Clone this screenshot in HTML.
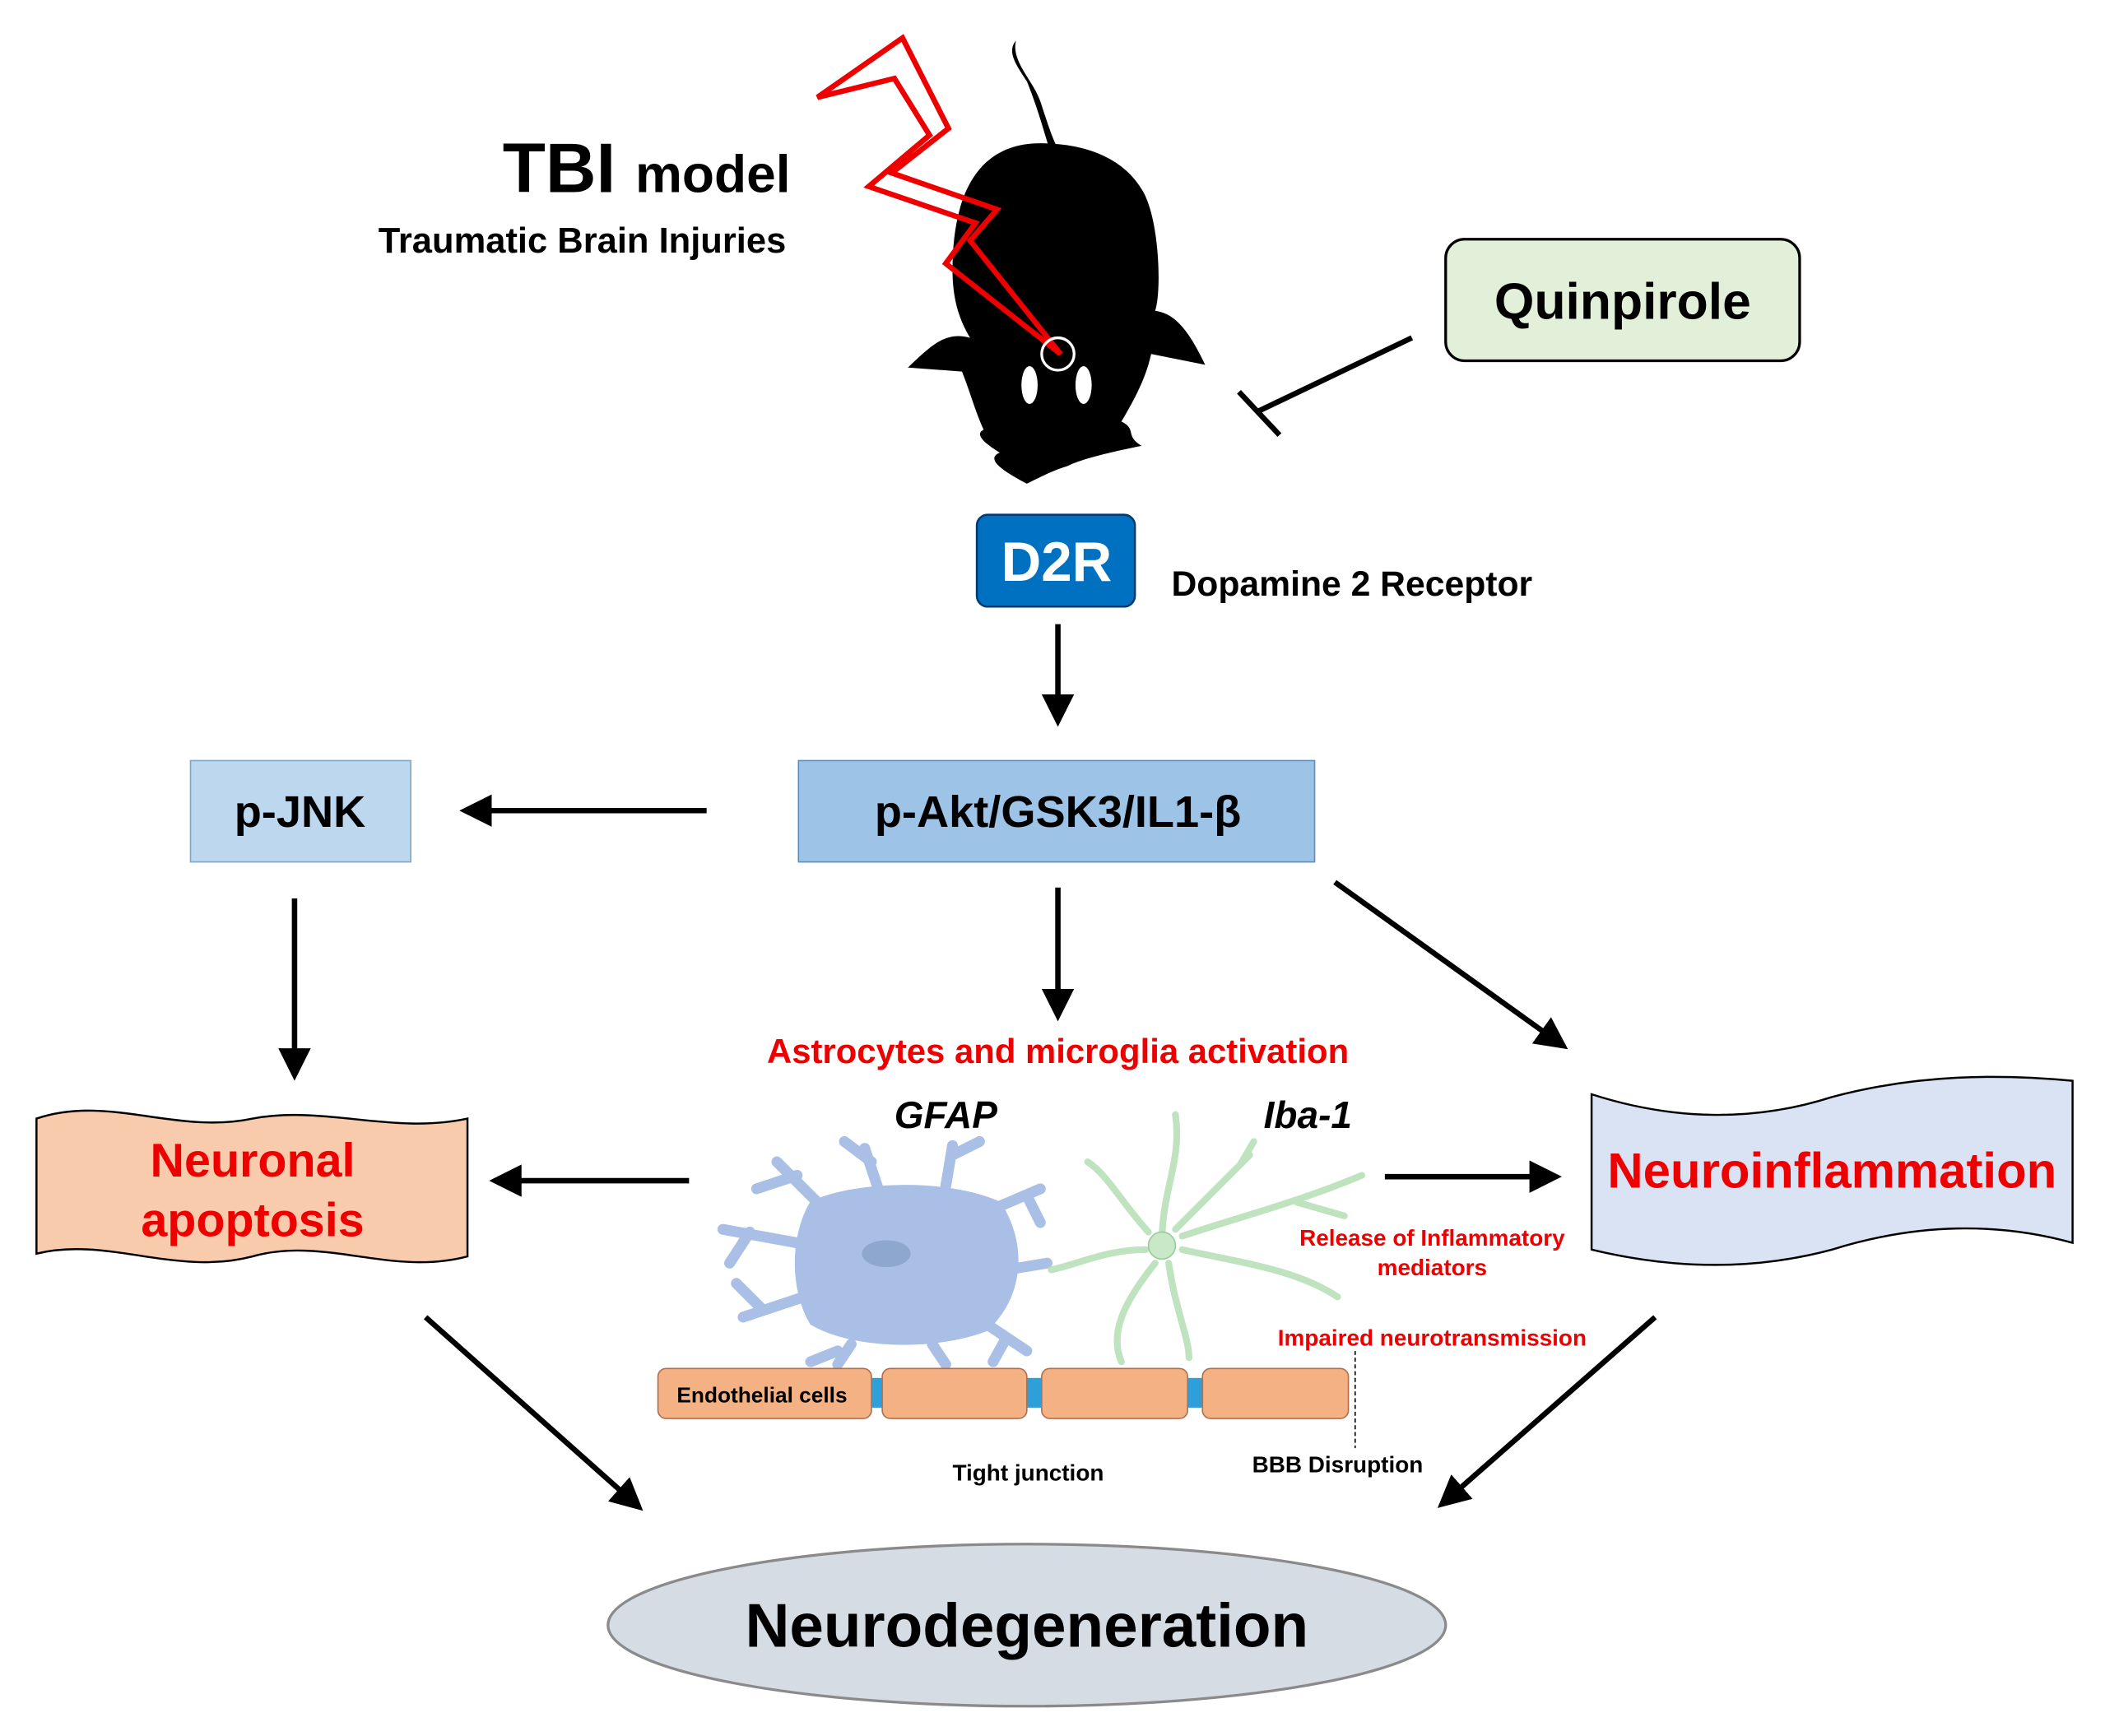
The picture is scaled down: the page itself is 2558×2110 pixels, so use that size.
<!DOCTYPE html>
<html><head><meta charset="utf-8"><style>
html,body{margin:0;padding:0;background:#fff}
svg{display:block}
text{font-family:"Liberation Sans",Arial,sans-serif;font-weight:bold}
</style></head><body>
<svg width="2558" height="2110" viewBox="0 0 1558 1285" xmlns="http://www.w3.org/2000/svg">
<defs>
<marker id="ah" markerWidth="6" markerHeight="6" refX="4" refY="3" orient="auto" markerUnits="strokeWidth">
<path d="M0,0 L6,3 L0,6 Z" fill="#000"/></marker>
</defs>
<rect width="1558" height="1285" fill="#fff"/>

<!-- TBI text -->
<text x="372" y="142" font-size="52">TBI <tspan font-size="39">model</tspan></text>
<text x="280" y="187" font-size="26.5">Traumatic Brain Injuries</text>

<!-- mouse -->
<path d="M752,30 C748,45 765,60 770,75 C775,90 778,100 782,108 L776,108 C772,95 768,80 760,60 C752,48 745,38 752,30Z" fill="#000"/>
<path d="M770,106 C720,106 705,150 705,200 C705,225 712,240 718,250 C700,245 690,255 672,272 L712,275 C718,290 722,305 728,318 C720,322 732,330 740,335 C728,340 745,350 760,358 C772,352 780,348 790,345 C800,340 820,335 845,330 C832,322 842,318 830,312 C840,295 848,280 852,262 L892,270 C880,245 870,232 855,230 C860,215 858,160 845,140 C830,115 800,106 770,106Z" fill="#000"/>
<ellipse cx="762" cy="285" rx="6" ry="14" fill="#fff"/>
<ellipse cx="802" cy="285" rx="6" ry="14" fill="#fff"/>
<!-- lightning -->
<polygon points="605,72 668,28 702,95 660,128 738,155 718,178 785,262 700,195 722,165 643,138 688,100 662,58" fill="none" stroke="#e00" stroke-width="4" stroke-linejoin="miter"/>
<circle cx="783" cy="262" r="12" fill="none" stroke="#fff" stroke-width="2"/>

<!-- Quinpirole -->
<rect x="1070" y="177" width="262" height="90" rx="14" fill="#e2f0d9" stroke="#000" stroke-width="2"/>
<text x="1201" y="236" font-size="38" text-anchor="middle">Quinpirole</text>
<line x1="1045" y1="250" x2="932" y2="304" stroke="#000" stroke-width="4"/>
<line x1="917" y1="290" x2="947" y2="322" stroke="#000" stroke-width="4"/>

<!-- D2R -->
<rect x="723" y="381" width="117" height="68" rx="8" fill="#0070c0" stroke="#003a70" stroke-width="1.5"/>
<text x="782" y="430" font-size="41" fill="#fff" text-anchor="middle">D2R</text>
<text x="867" y="441" font-size="26">Dopamine 2 Receptor</text>

<g stroke="#000" stroke-width="4" marker-end="url(#ah)">
<line x1="783" y1="462" x2="783" y2="530"/>
<line x1="523" y1="600" x2="348" y2="600"/>
<line x1="218" y1="665" x2="218" y2="792"/>
<line x1="783" y1="657" x2="783" y2="748"/>
<line x1="988" y1="653" x2="1154" y2="772"/>
<line x1="510" y1="874" x2="370" y2="874"/>
<line x1="1025" y1="871" x2="1148" y2="871"/>
<line x1="315" y1="975" x2="470" y2="1113"/>
<line x1="1225" y1="975" x2="1070" y2="1111"/>
</g>

<!-- p-Akt, p-JNK -->
<rect x="591" y="563" width="382" height="75" fill="#9dc3e6" stroke="#5b8fbf" stroke-width="1"/>
<text x="783" y="612" font-size="33" text-anchor="middle">p-Akt/GSK3/IL1-β</text>
<rect x="141" y="563" width="163" height="75" fill="#bdd7ee" stroke="#7da7cf" stroke-width="1"/>
<text x="222" y="612" font-size="33" text-anchor="middle">p-JNK</text>

<text x="783" y="787" font-size="25.5" fill="#e00" text-anchor="middle">Astrocytes and microglia activation</text>
<text x="700" y="835" font-size="28" font-style="italic" text-anchor="middle">GFAP</text>
<text x="968" y="835" font-size="28" font-style="italic" text-anchor="middle">Iba-1</text>

<!-- Neuronal apoptosis banner -->
<path d="M27,828 C80,810 130,840 187,828 C240,818 290,840 346,828 L346,930 C290,945 240,915 187,930 C130,945 80,915 27,928 Z" fill="#f8cbad" stroke="#000" stroke-width="1.5"/>
<text x="187" y="871" font-size="35" fill="#e00" text-anchor="middle">Neuronal</text>
<text x="187" y="915" font-size="35" fill="#e00" text-anchor="middle">apoptosis</text>

<!-- Neuroinflammation banner -->
<path d="M1178,810 C1240,830 1300,830 1356,812 C1420,795 1480,795 1534,800 L1534,920 C1480,905 1420,905 1356,925 C1300,940 1240,940 1178,925 Z" fill="#dae3f3" stroke="#000" stroke-width="1.5"/>
<text x="1356" y="879" font-size="36.5" fill="#e00" text-anchor="middle">Neuroinflammation</text>

<!-- astrocyte -->
<g fill="#a9bfe6" stroke="#a9bfe6" stroke-linecap="round">
<path d="M600,890 C630,875 700,872 740,890 C760,920 758,960 730,985 C690,1000 630,998 600,980 C585,955 585,915 600,890Z"/>
<g stroke-width="8" fill="none">
<path d="M610,895 L575,860 M590,870 L560,880"/>
<path d="M650,880 L640,850 M645,860 L625,845"/>
<path d="M700,878 L705,848 M705,855 L725,845"/>
<path d="M735,895 L770,880 M760,885 L770,905"/>
<path d="M745,940 L775,935"/>
<path d="M730,980 L760,1000 M745,990 L735,1008"/>
<path d="M690,995 L700,1010"/>
<path d="M630,995 L620,1010 M620,1000 L600,1008"/>
<path d="M595,960 L550,975 M565,970 L545,950"/>
<path d="M590,920 L535,910 M555,912 L540,935"/>
</g></g>
<ellipse cx="656" cy="928" rx="18" ry="10" fill="#8ea7cf"/>
<!-- microglia -->
<g fill="none" stroke="#bfe3bf" stroke-width="5" stroke-linecap="round">
<path d="M860,920 C860,880 875,860 870,825"/>
<path d="M870,910 C895,885 910,870 925,855 M918,862 L928,845"/>
<path d="M875,915 C920,900 960,890 1008,870 M960,890 L995,900"/>
<path d="M875,925 C920,935 960,940 990,960"/>
<path d="M865,935 C870,970 880,990 880,1005"/>
<path d="M855,935 C835,960 820,985 830,1008"/>
<path d="M848,925 C820,925 800,935 778,940"/>
<path d="M850,912 C830,890 820,870 805,860"/>
</g>
<circle cx="860" cy="922" r="10" fill="#c8e8c8" stroke="#9c9" stroke-width="1"/>

<text x="1060" y="922" font-size="17" fill="#e00" text-anchor="middle">Release of Inflammatory</text>
<text x="1060" y="944" font-size="17" fill="#e00" text-anchor="middle">mediators</text>
<text x="1060" y="996" font-size="17" fill="#e00" text-anchor="middle">Impaired neurotransmission</text>

<!-- endothelial -->
<g fill="#2e9fd9">
<rect x="640" y="1020" width="18" height="22"/><rect x="755" y="1020" width="20" height="22"/><rect x="874" y="1020" width="20" height="22"/>
</g>
<g fill="#f4b183" stroke="#b07050" stroke-width="1">
<rect x="487" y="1013" width="158" height="37" rx="6"/>
<rect x="653" y="1013" width="107" height="37" rx="6"/>
<rect x="771" y="1013" width="108" height="37" rx="6"/>
<rect x="890" y="1013" width="108" height="37" rx="6"/>
</g>
<text x="564" y="1038" font-size="16" text-anchor="middle">Endothelial cells</text>
<line x1="1003" y1="1000" x2="1003" y2="1072" stroke="#000" stroke-width="1" stroke-dasharray="3,2"/>
<text x="761" y="1096" font-size="17" text-anchor="middle">Tight junction</text>
<text x="990" y="1090" font-size="17" text-anchor="middle">BBB Disruption</text>

<!-- neurodegeneration -->
<ellipse cx="760" cy="1203" rx="310" ry="60" fill="#d6dce4" stroke="#8a8a8a" stroke-width="2"/>
<text x="760" y="1219" font-size="45.5" text-anchor="middle">Neurodegeneration</text>
</svg>
</body></html>
